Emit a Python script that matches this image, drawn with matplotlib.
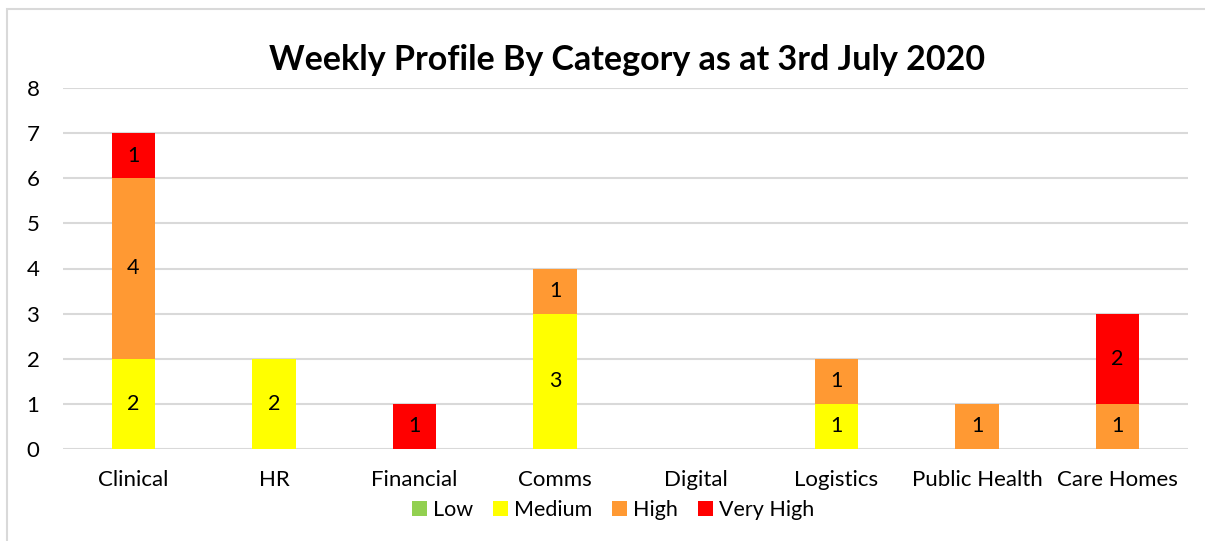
import matplotlib.pyplot as plt
from matplotlib.patches import Rectangle
import numpy as np

plt.rcParams['font.family'] = ['Lato', 'DejaVu Sans']

categories = ['Clinical', 'HR', 'Financial', 'Comms', 'Digital', 'Logistics',
              'Public Health', 'Care Homes']
low = [0, 0, 0, 0, 0, 0, 0, 0]
medium = [2, 2, 0, 3, 0, 1, 0, 0]
high = [4, 0, 0, 1, 0, 1, 1, 1]
very_high = [1, 0, 1, 0, 0, 0, 0, 2]

series = [('Low', low, '#92d050'), ('Medium', medium, '#ffff00'),
          ('High', high, '#ff9933'), ('Very High', very_high, '#ff0000')]

W, H = 1205, 541
fig = plt.figure(figsize=(W / 100, H / 100), dpi=100)
ax = fig.add_axes([63 / W, 1 - 449 / H, (1188 - 63) / W, (449 - 88) / H])

# chart border
fig.patches.append(Rectangle((7 / W, -0.1), 1.2, (1 - 9 / H) + 0.1,
                             transform=fig.transFigure, fill=False,
                             edgecolor='#d9d9d9', linewidth=1.5))

x = np.arange(len(categories))
bottom = np.zeros(len(categories))
for name, vals, color in series:
    vals = np.array(vals, dtype=float)
    bars = ax.bar(x, vals, 0.31, bottom=bottom, color=color, label=name, zorder=3)
    for rect, v, b in zip(bars, vals, bottom):
        if v > 0:
            ax.text(rect.get_x() + rect.get_width() / 2, b + v / 2, f'{int(v)}',
                    ha='center', va='center', fontsize=15.5, zorder=4)
    bottom += vals

ax.set_xlim(-0.5, len(categories) - 0.5)
ax.set_ylim(0, 8)
ax.set_yticks(range(0, 9))
ax.set_xticks(x)
ax.set_xticklabels(categories)
ax.tick_params(axis='both', length=0, labelsize=16)
ax.tick_params(axis='x', pad=15)
ax.tick_params(axis='y', pad=17)
ax.grid(axis='y', color='#d9d9d9', linewidth=1.5, zorder=0)
for s in ax.spines.values():
    s.set_visible(False)

fig.text(627 / W, 1 - 60 / H, 'Weekly Profile By Category as at 3rd July 2020',
         ha='center', va='center', fontsize=24.5, fontweight='bold')

fig.legend(loc='center', bbox_to_anchor=(613 / W, 1 - 510 / H), ncol=4,
           frameon=False, fontsize=15.5, handlelength=0.7, handleheight=0.7,
           handletextpad=0.3, columnspacing=0.9)

fig.savefig('out.png', dpi=100)
